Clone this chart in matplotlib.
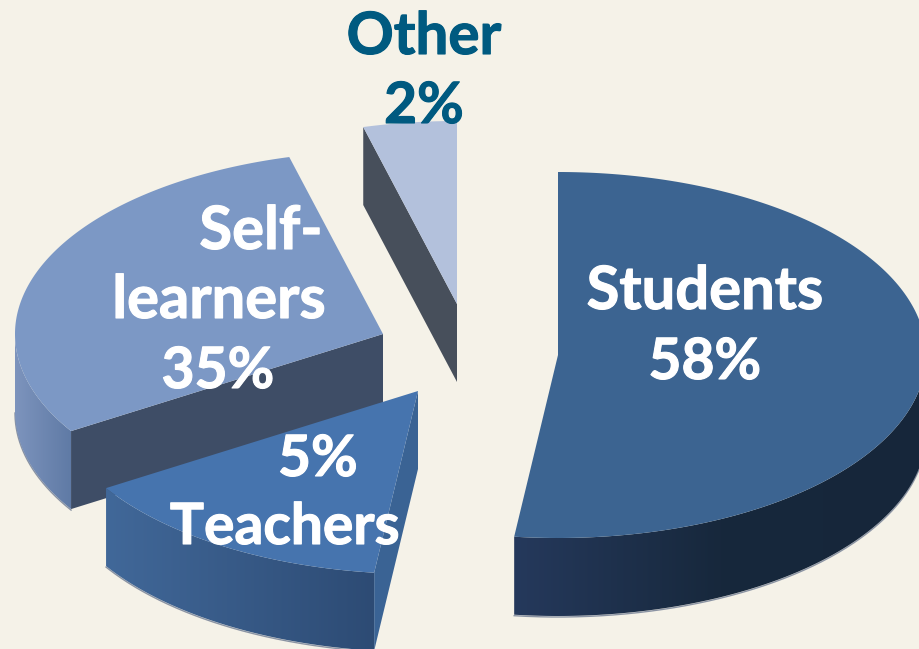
import matplotlib
matplotlib.use("Agg")
import matplotlib.pyplot as plt
import matplotlib.patheffects as pe
import numpy as np
from matplotlib.colors import LinearSegmentedColormap
from matplotlib.patches import Polygon

# labels printed on the chart
slice_names = ["Students", "Teachers", "Self-learners", "Other"]
slice_labels = [58, 5, 35, 2]
# share of the circle each slice really takes up in the picture
drawn_shares = [51.9, 14.2, 29.8, 4.1]

# pixel layout
W, H = 920, 649
RX, RY = 368, 183
DEPTH = 78
BG = "#f5f2e8"
apex = [(558, 355), (418, 391), (383, 334), (457, 304)]
top_colors = ["#3c6491", "#4674ae", "#7c98c5", "#b3c1dc"]
cut_colors = [None, "#3a6394", "#3e4d66", "#474f5b"]
wall_colors = [["#25395c", "#17283c", "#16263a"], ["#416899", "#2d4b74"],
               ["#7d94bd", "#5f7aa5"], None]
text_lines = [("Students", 705, 309, "w", 43), ("58%", 705, 379, "w", 41),
              ("5%", 318, 476, "w", 41), ("Teachers", 285, 544, "w", 41),
              ("Self-", 261, 249, "w", 43), ("learners", 219, 318, "w", 43), ("35%", 218, 388, "w", 41),
              ("Other", 424, 54, "#005a80", 42), ("2%", 424, 123, "#005a80", 41)]

plt.rcParams["font.family"] = ["Lato", "DejaVu Sans"]
fig = plt.figure(figsize=(W / 100, H / 100), dpi=100, facecolor=BG)
ax = fig.add_axes([0, 0, 1, 1])
ax.set_facecolor(BG)


# point on the squashed circle, angles in degrees, y pixels go down
def rim(c, deg):
    t = np.radians(deg)
    return np.column_stack([c[0] + RX * np.cos(t), c[1] - RY * np.sin(t)])


def gradient_fill(pts, colors, z):
    patch = Polygon(pts, closed=True, transform=ax.transData, fc="none", ec="none")
    ax.add_patch(patch)
    cmap = LinearSegmentedColormap.from_list("wall", colors)
    grad = np.linspace(0, 1, 256)[None, :]
    x0, x1 = pts[:, 0].min(), pts[:, 0].max()
    y0, y1 = pts[:, 1].min(), pts[:, 1].max()
    im = ax.imshow(grad, cmap=cmap, extent=(x0, x1, y1, y0), aspect="auto", zorder=z)
    im.set_clip_path(patch)


def draw_slice(i, start, stop, z):
    c = apex[i]
    arc = rim(c, np.linspace(start, stop, 200))
    down = np.array([0, DEPTH])
    # outer wall, only the part of the rim facing the viewer
    lo = max(min(start, stop), -180)
    hi = min(max(start, stop), 0)
    if wall_colors[i] is not None and lo < hi:
        front = rim(c, np.linspace(hi, lo, 200))
        gradient_fill(np.vstack([front, (front + down)[::-1]]), wall_colors[i], z)
        ax.plot(*(front + down + [0, 1]).T, color="#8a93a3", lw=1, zorder=z - 0.1)
    # flat cut face, on the slice's starting edge
    if cut_colors[i] is not None:
        end = arc[0]
        cut = np.array([c, end, end + down, np.array(c) + down])
        ax.fill(cut[:, 0], cut[:, 1], color=cut_colors[i], lw=0, zorder=z + 0.1)
    face = np.vstack([[c], arc])
    ax.fill(face[:, 0], face[:, 1], color=top_colors[i], lw=0, zorder=z + 0.2)


# walk clockwise from 12 o'clock, each slice has its own pulled-out centre
angle = 90.0
spans = []
for share in drawn_shares:
    sweep = share / sum(drawn_shares) * 360
    spans.append((angle, angle - sweep))
    angle -= sweep

for i, z in [(2, 2), (3, 3), (1, 4), (0, 5)]:
    draw_slice(i, spans[i][0], spans[i][1], z)

for s, x, y, col, size in text_lines:
    t = ax.text(x, y, s, color=col, fontsize=size, fontweight="bold", ha="center", va="baseline", zorder=10)
    t.set_path_effects([pe.withStroke(linewidth=0.8, foreground=col)])

ax.set_xlim(0, W)
ax.set_ylim(H, 0)
ax.axis("off")
fig.savefig("out.png", dpi=100, facecolor=BG)
